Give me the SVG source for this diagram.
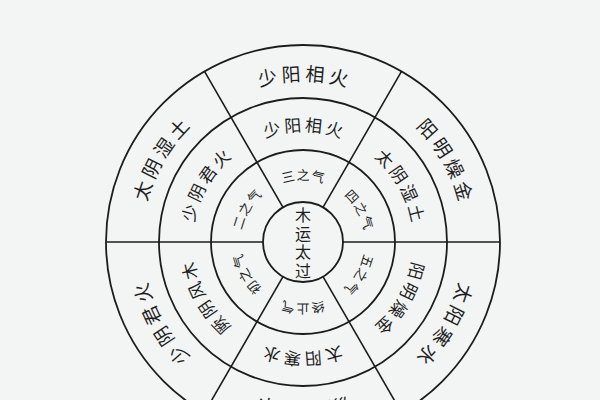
<svg xmlns="http://www.w3.org/2000/svg" xmlns:xlink="http://www.w3.org/1999/xlink" width="600" height="400" viewBox="0 0 600 400">
<style>
.ring{fill:none;stroke:#1c1c1c;stroke-width:1.8}
.div{stroke:#1c1c1c;stroke-width:1.6}
text{font-family:"Noto Sans CJK SC","Noto Sans CJK TC",sans-serif;fill:#1e1e1e}
.o{font-size:19px;letter-spacing:4px}
.m{font-size:17px;letter-spacing:3px}
.i{font-size:13px;letter-spacing:1px}
.c{font-size:16px}
</style>
<defs>
<path id="po" d="M142,242 A161,161 0 0 1 464,242 A161,161 0 0 1 142,242"/>
<path id="pm" d="M192.5,242 A110.5,110.5 0 0 1 413.5,242 A110.5,110.5 0 0 1 192.5,242"/>
<path id="pi" d="M241,242 A62,62 0 0 1 365,242 A62,62 0 0 1 241,242"/>
</defs>
<rect width="600" height="400" fill="#f3f5f5"/>
<g id="circles">
<circle class="ring" cx="303" cy="242" r="197"/>
<circle class="ring" cx="303" cy="242" r="144"/>
<circle class="ring" cx="303" cy="242" r="92"/>
<circle class="ring" cx="303" cy="242" r="40"/>
</g>
<g id="dividers">
<line class="div" x1="343" y1="242" x2="500" y2="242"/>
<line class="div" x1="263" y1="242" x2="106" y2="242"/>
<line class="div" x1="323" y1="207.4" x2="401.5" y2="71.4"/>
<line class="div" x1="283" y1="207.4" x2="204.5" y2="71.4"/>
<line class="div" x1="283" y1="276.6" x2="204.5" y2="412.6"/>
<line class="div" x1="323" y1="276.6" x2="401.5" y2="412.6"/>
</g>
<g id="center">
<text class="c" x="303" y="221" text-anchor="middle">木</text>
<text class="c" x="303" y="239.5" text-anchor="middle">运</text>
<text class="c" x="303" y="258" text-anchor="middle">太</text>
<text class="c" x="303" y="276.5" text-anchor="middle">过</text>
</g>
<g id="ring-inner">
<text class="i" dx="0.5" text-anchor="middle"><textPath xlink:href="#pi" href="#pi" startOffset="8.333%">二之气</textPath></text>
<text class="i" dx="0.5" text-anchor="middle"><textPath xlink:href="#pi" href="#pi" startOffset="25%">三之气</textPath></text>
<text class="i" dx="0.5" text-anchor="middle"><textPath xlink:href="#pi" href="#pi" startOffset="41.667%">四之气</textPath></text>
<text class="i" dx="0.5" text-anchor="middle"><textPath xlink:href="#pi" href="#pi" startOffset="58.333%">五之气</textPath></text>
<text class="i" dx="0.5" text-anchor="middle"><textPath xlink:href="#pi" href="#pi" startOffset="75%">终止气</textPath></text>
<text class="i" dx="0.5" text-anchor="middle"><textPath xlink:href="#pi" href="#pi" startOffset="91.667%">初之气</textPath></text>
</g>
<g id="ring-middle">
<text class="m" dx="1.5" text-anchor="middle"><textPath xlink:href="#pm" href="#pm" startOffset="8.333%">少阴君火</textPath></text>
<text class="m" dx="1.5" text-anchor="middle"><textPath xlink:href="#pm" href="#pm" startOffset="25%">少阳相火</textPath></text>
<text class="m" dx="1.5" text-anchor="middle"><textPath xlink:href="#pm" href="#pm" startOffset="41.667%">太阴湿土</textPath></text>
<text class="m" dx="1.5" text-anchor="middle"><textPath xlink:href="#pm" href="#pm" startOffset="58.333%">阳明燥金</textPath></text>
<text class="m" dx="1.5" text-anchor="middle"><textPath xlink:href="#pm" href="#pm" startOffset="75%">太阳寒水</textPath></text>
<text class="m" dx="1.5" text-anchor="middle"><textPath xlink:href="#pm" href="#pm" startOffset="91.667%">厥阴风木</textPath></text>
</g>
<g id="ring-outer">
<text class="o" dx="2" text-anchor="middle"><textPath xlink:href="#po" href="#po" startOffset="8.333%">太阴湿土</textPath></text>
<text class="o" dx="2" text-anchor="middle"><textPath xlink:href="#po" href="#po" startOffset="25%">少阳相火</textPath></text>
<text class="o" dx="2" text-anchor="middle"><textPath xlink:href="#po" href="#po" startOffset="41.667%">阳明燥金</textPath></text>
<text class="o" dx="2" text-anchor="middle"><textPath xlink:href="#po" href="#po" startOffset="58.333%">太阳寒水</textPath></text>
<text class="o" dx="2" text-anchor="middle"><textPath xlink:href="#po" href="#po" startOffset="75%">厥阴风木</textPath></text>
<text class="o" dx="2" text-anchor="middle"><textPath xlink:href="#po" href="#po" startOffset="91.667%">少阴君火</textPath></text>
</g>
</svg>
